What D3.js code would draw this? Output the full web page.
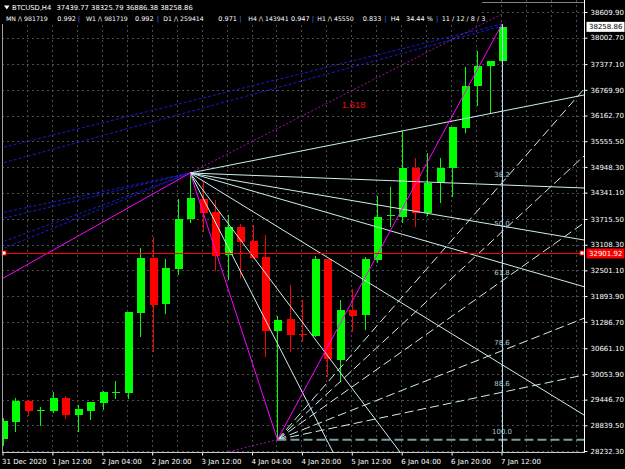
<!DOCTYPE html>
<html lang="en">
<head>
<meta charset="UTF-8">
<title>BTCUSD,H4</title>
<style>
  html, body { margin: 0; padding: 0; background: #000; }
  svg { display: block; }
  text { font-family: "DejaVu Sans", Tahoma, sans-serif; font-size: 7px; fill: #fff; }
</style>
</head>
<body>
<svg id="chart" width="625" height="469"></svg>
<script src="https://d3js.org/d3.v7.min.js"></script>
<script>
// H4 bars, first bar = 31 Dec 2020 20:00, last = 7 Jan 2021 12:00
var opens  = [28516, 28925, 29414, 29195, 29185, 29478, 29083, 29185, 29360, 29615,
              29596, 31494, 32795, 31707, 32534, 33716, 34189, 33875, 32865, 33520,
              33196, 32825, 31076, 31345, 30998, 30958, 32764, 30383, 31565, 31447,
              32747, 33776, 33771, 34929, 33851, 34561, 34929, 35875, 36868, 37341, 37439.77];
var highs  = [29012, 29485, 29430, 29279, 29627, 29539, 29320, 29400, 29640, 29887,
              31520, 33024, 33284, 32764, 34189, 34804, 34598, 34166, 33811, 33598,
              33575, 33338, 31424, 32156, 31802, 32842, 32780, 31802, 32055, 32825,
              34260, 34466, 35797, 35151, 35284, 35151, 35890, 37303, 37688, 37460, 38325.79];
var lows   = [28350, 28688, 29067, 28830, 29130, 28989, 28688, 28965, 29201, 29454,
              29461, 30934, 30579, 31471, 32393, 33629, 33416, 32487, 32275, 32315,
              32771, 30461, 28500, 30579, 30816, 30927, 29989, 29870, 31052, 31092,
              32669, 33535, 33629, 33535, 33787, 34102, 34244, 35742, 36388, 36215, 36886.38];
var closes = [28941, 29414, 29185, 29205, 29478, 29083, 29218, 29383, 29627, 29638,
              31511, 32795, 31683, 32558, 33716, 34206, 33851, 32849, 33535, 33180,
              32802, 31076, 31329, 30974, 30981, 32764, 30400, 31565, 31431, 32764,
              33757, 33800, 34929, 33866, 34575, 34929, 35884, 36868, 37341, 37440, 38258.86];

var priceTicks = [38609.90, 38002.70, 37377.10, 36769.90, 36162.70, 35555.50, 34948.30, 34341.10,
                  33715.50, 33108.30, 32501.10, 31893.90, 31286.70, 30661.10, 30053.90, 29446.70,
                  28839.50, 28232.30];
var timeTickBars = [0, 4, 8, 12, 16, 20, 24, 28, 32, 36, 40];
var hLinePrice = 32901.92;

// objects on the chart, points are [bar index, price]
var swingA = [15, 34804], swingB = [22, 28500], swingC = [40, 38325.79];
var zigzag = [[-1, 32150], swingA, swingB, swingC];
var fanATargets = [[46.57, 36648], [46.57, 34449], [46.57, 33220], [46.57, 32116],
                   [46.57, 29083], [31.82, 28209], [26.45, 28209]];
var fibLevels = [38.2, 50.0, 61.8, 78.6, 88.6, 100.0];
var blueLines = [[[-0.3, 35388], [40, 38326]], [[-0.3, 35017], [40, 38280]],
                 [[-0.3, 33851], swingA], [[-0.3, 33709], swingA],
                 [[-0.3, 33149], swingA], [[-0.3, 32984], swingA]];
var purpleLines = [[[17.5, 28175], swingB], [swingA, [40, 38562]]];
var expLabelText = "1.618", expLabelAt = [27.15, 36340];

// header texts
var symbolTitle = "BTCUSD,H4";
var indiNames = ["MN /\\ 981719", "W1 /\\ 981719", "D1 /\\ 259414", "H4 /\\ 143941", "H1 /\\ 45550"];
var indiValues = ["0.992", "0.992", "0.971", "0.947", "0.833"];
var indiTail = ["H4", "34.44 %", "11 / 12 / 8 / 3"];

var svg = d3.select("#chart");
var plotR = 584, plotB = 452;

var t0 = new Date(2020, 11, 31, 20, 0);
function barTime(i) { return new Date(t0.getTime() + i * 4 * 3600 * 1000); }

var x = d3.scaleTime().domain([barTime(0), barTime(40)]).range([3, 502]);
var y = d3.scaleLinear().domain([28232.3, 38609.9]).range([451, 12]);
function pt(d) { return [x(barTime(d[0])), y(d[1])]; }
function ray(p1, p2) {
    var a = pt(p1), b = pt(p2), k = 30;
    return [a, [a[0] + (b[0] - a[0]) * k, a[1] + (b[1] - a[1]) * k]];
}
var line = d3.line();

svg.append("rect").attr("width", 625).attr("height", 469).attr("fill", "#000");
svg.append("defs").append("clipPath").attr("id", "plot")
   .append("rect").attr("x", 2).attr("y", 0).attr("width", plotR - 2).attr("height", plotB);

// grid
var grid = svg.append("g").attr("stroke", "#4d4d4d").attr("stroke-dasharray", "2,3")
              .attr("shape-rendering", "crispEdges");
grid.selectAll("line.v").data(d3.range(0, 48, 2)).join("line")
    .attr("x1", function(i) { return Math.round(x(barTime(i))) - 0.5; })
    .attr("x2", function(i) { return Math.round(x(barTime(i))) - 0.5; })
    .attr("y1", 0).attr("y2", plotB);
grid.selectAll("line.h").data(priceTicks).join("line")
    .attr("x1", 2).attr("x2", plotR)
    .attr("y1", function(d) { return Math.round(y(d)) + 0.5; })
    .attr("y2", function(d) { return Math.round(y(d)) + 0.5; });

// candles
var bars = d3.range(opens.length).map(function(i) {
    return {t: barTime(i), o: opens[i], h: highs[i], l: lows[i], c: closes[i]};
});
var cg = svg.append("g").attr("clip-path", "url(#plot)").attr("shape-rendering", "crispEdges");
function col(d) { return d.c >= d.o ? "#00ff00" : "#ff0000"; }
cg.selectAll("line").data(bars).join("line")
  .attr("x1", function(d) { return Math.round(x(d.t)) + 0.5; })
  .attr("x2", function(d) { return Math.round(x(d.t)) + 0.5; })
  .attr("y1", function(d) { return y(d.h); })
  .attr("y2", function(d) { return y(d.l); })
  .attr("stroke", col);
cg.selectAll("rect").data(bars).join("rect")
  .attr("x", function(d) { return Math.round(x(d.t)) - 3.5; })
  .attr("width", 8)
  .attr("y", function(d) { return y(Math.max(d.o, d.c)); })
  .attr("height", function(d) { return Math.max(1, Math.abs(y(d.o) - y(d.c))); })
  .attr("fill", col);

// objects
var og = svg.append("g").attr("clip-path", "url(#plot)").attr("fill", "none");

og.selectAll("path.blue").data(blueLines).join("path")
  .attr("d", function(s) { return line(s.map(pt)); })
  .attr("stroke", "#1a1ad0").attr("stroke-dasharray", "3,2");

og.selectAll("path.purple").data(purpleLines).join("path")
  .attr("d", function(s) { return line(s.map(pt)); })
  .attr("stroke", "#a010b0").attr("stroke-dasharray", "2,2");

og.selectAll("path.fanA").data(fanATargets).join("path")
  .attr("d", function(t) { return line(ray(swingA, t)); })
  .attr("stroke", "#cdeeee").attr("stroke-width", 1);

var fibRange = swingC[1] - swingB[1];
var fibPts = fibLevels.map(function(l) { return [swingC[0], swingC[1] - l / 100 * fibRange]; });
og.selectAll("path.fanB").data(fibPts).join("path")
  .attr("d", function(t) { return line(ray(swingB, t)); })
  .attr("stroke", function(t, i) { return fibLevels[i] === 100 ? "#7f9d9d" : "#cdeeee"; })
  .attr("stroke-width", function(t, i) { return fibLevels[i] === 100 ? 2 : 1; })
  .attr("stroke-dasharray", "9,4");

og.append("path")
  .attr("d", line([pt(swingC), [x(barTime(swingC[0])), plotB]]))
  .attr("stroke", "#b4e0ee").attr("shape-rendering", "crispEdges");

og.append("path").attr("d", line(zigzag.map(pt))).attr("stroke", "#ff00ff");

og.selectAll("text.fib").data(fibPts).join("text")
  .attr("x", function(t) { return pt(t)[0]; })
  .attr("y", function(t) { return pt(t)[1] - 6; })
  .attr("text-anchor", "middle")
  .style("fill", "#a9c9d2")
  .text(function(t, i) { return d3.format(".1f")(fibLevels[i]); });

og.append("text")
  .attr("x", pt(expLabelAt)[0]).attr("y", pt(expLabelAt)[1])
  .style("font-family", "'Liberation Sans', Arial, sans-serif").style("font-size", "9.5px")
  .style("fill", "#e01010")
  .text(expLabelText);

// horizontal line
var hy = Math.round(y(hLinePrice)) + 0.5;
svg.append("line").attr("x1", 2).attr("x2", plotR).attr("y1", hy).attr("y2", hy)
   .attr("stroke", "#ff0000").attr("shape-rendering", "crispEdges");
svg.selectAll("rect.mk").data([4, plotR - 2]).join("rect")
   .attr("x", function(d) { return d - 2; }).attr("y", hy - 2.5).attr("width", 4).attr("height", 4)
   .attr("fill", "#fff").attr("stroke", "#ff0000").attr("stroke-width", 1);

// frame
svg.append("line").attr("x1", 2.5).attr("x2", 2.5).attr("y1", 0).attr("y2", plotB)
   .attr("stroke", "#a0a0a0");
svg.append("line").attr("x1", 2).attr("x2", plotR).attr("y1", 2.5).attr("y2", 2.5)
   .attr("stroke", "#808080");

// axes
var yAxis = d3.axisRight(y).tickValues(priceTicks).tickFormat(d3.format(".2f")).tickSize(3).tickPadding(3);
var ya = svg.append("g").attr("transform", "translate(" + (plotR + 0.5) + ",0)").call(yAxis);
ya.select(".domain").remove();
ya.selectAll("line").attr("stroke", "#fff");
ya.selectAll("text").attr("fill", "#fff").style("font-size", "7px");
svg.append("line").attr("x1", plotR + 0.5).attr("x2", plotR + 0.5).attr("y1", 0).attr("y2", plotB + 1)
   .attr("stroke", "#fff");

var fmtFirst = d3.timeFormat("%-d %b %Y"), fmtT = d3.timeFormat("%-d %b %H:%M");
var xAxis = d3.axisBottom(x).tickValues(timeTickBars.map(barTime)).tickSize(3)
    .tickFormat(function(d, i) { return i === 0 ? fmtFirst(d) : fmtT(d); });
var xa = svg.append("g").attr("transform", "translate(-0.5," + (plotB + 0.5) + ")").call(xAxis);
xa.select(".domain").remove();
xa.selectAll("line").attr("stroke", "#fff");
xa.selectAll("text").attr("text-anchor", "start").attr("x", -1).attr("y", 11).attr("dy", 0)
  .attr("fill", "#fff").style("font-size", "7px");
svg.append("line").attr("x1", 2).attr("x2", plotR + 1).attr("y1", plotB + 0.5).attr("y2", plotB + 0.5)
   .attr("stroke", "#c8c8c8");

// price labels on the right
function priceTag(p, bg, fg) {
    var yy = y(p);
    svg.append("rect").attr("x", plotR + 2.5).attr("y", yy - 5).attr("width", 38).attr("height", 10)
       .attr("fill", bg);
    svg.append("text").attr("x", plotR + 5).attr("y", yy + 2.5).style("fill", fg)
       .text(d3.format(".2f")(p));
}
priceTag(closes[closes.length - 1], "#ffffff", "#000");
priceTag(hLinePrice, "#ff0000", "#fff");

// header
var last = closes.length - 1;
var hdr = svg.append("g");
hdr.append("rect").attr("x", 0).attr("y", 0).attr("width", 482).attr("height", 24).attr("fill", "#000");
hdr.append("path").attr("d", "M4,5.5 L9.5,5.5 L6.75,9.5 Z").attr("fill", "#fff");
hdr.append("text").attr("x", 12).attr("y", 10).style("font-size", "6.8px").text(symbolTitle);
hdr.append("text").attr("x", 56.5).attr("y", 10).style("font-size", "6.8px")
   .text([opens[last], highs[last], lows[last], closes[last]].map(d3.format(".2f")).join(" "));

var nameX = [6, 86, 163.3, 248.3, 317.3], valX = [57.3, 135, 218.3, 291, 362.7];
var sepX = [77.7, 156.7, 239.3, 311.7, 384.3, 436];
hdr.selectAll("text.nm").data(indiNames).join("text")
   .attr("x", function(d, i) { return nameX[i]; }).attr("y", 21).style("font-size", "6.2px").text(function(d) { return d; });
hdr.selectAll("text.vl").data(indiValues).join("text")
   .attr("x", function(d, i) { return valX[i]; }).attr("y", 21).style("font-size", "6.5px").text(function(d) { return d; });
hdr.selectAll("text.sp").data(sepX).join("text")
   .attr("x", function(d) { return d; }).attr("y", 21).style("font-size", "6.8px").style("fill", "#3a7cff").text("|");
hdr.selectAll("text.tl").data(indiTail).join("text")
   .attr("x", function(d, i) { return [390.7, 406, 441.7][i]; }).attr("y", 21).style("font-size", "6.5px")
   .text(function(d) { return d; });
</script>
</body>
</html>
